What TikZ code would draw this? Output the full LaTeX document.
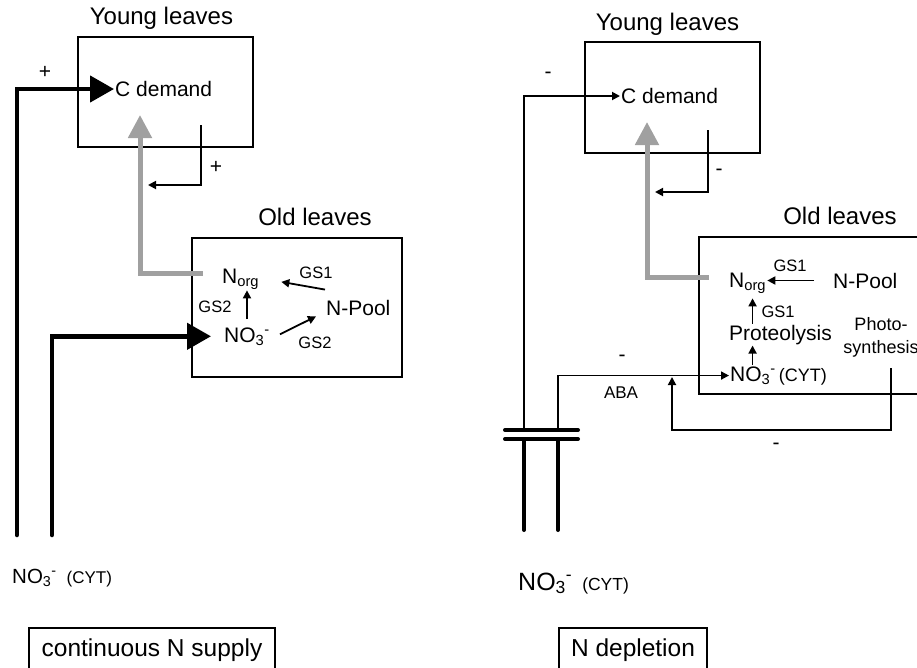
\documentclass[tikz,border=0pt]{standalone}
\usepackage{fontspec}
\setmainfont{Liberation Sans}
\usetikzlibrary{arrows.meta, positioning}
\definecolor{flowgray}{RGB}{160,160,160}
\tikzset{
  leafbox/.style={rectangle, draw, line width=2pt, inner sep=0pt},
  casebox/.style={rectangle, draw, line width=1.5pt, inner sep=0pt,
    minimum height=44pt, font=\fontsize{24.5}{28}\selectfont},
  title/.style={font=\fontsize{24}{28}\selectfont, inner sep=1pt},
  lbl/.style={font=\fontsize{21}{24}\selectfont, inner sep=1pt},
  enz/.style={font=\fontsize{16.5}{19}\selectfont, inner sep=1pt},
  sign/.style={font=\fontsize{21}{24}\selectfont, inner sep=0pt},
  thinarrow/.style={-{Triangle[length=8pt, width=8pt]}, line width=1.8pt},
  boldarrow/.style={-{Triangle[length=24pt, width=26pt]}, line width=4.5pt, line cap=round},
  grayarrow/.style={-{Triangle[length=23pt, width=23pt]}, line width=5pt, color=flowgray},
  wire/.style={line width=4pt, line cap=round}
}
\newcommand{\nitrate}{NO\textsubscript{3}\textsuperscript{-}}

\begin{document}
\begin{tikzpicture}[x=1pt, y=-1pt]
  \useasboundingbox (0,0) rectangle (917,667);
  \clip (0,0) rectangle (917,667);
  % left panel: continuous N supply
  \node[leafbox, minimum width=175pt, minimum height=110pt] (youngA) at (165.5,92) {};
  \node[title, above=5pt of youngA, xshift=-4pt] {Young leaves};
  \node[lbl, anchor=west] (cdemA) at (114,89) {C demand};
  \node[leafbox, minimum width=210pt, minimum height=139pt] (oldA) at (297,307.5) {};
  \node[title, above=10pt of oldA, xshift=18pt] {Old leaves};
  \node[lbl, anchor=base west] (normA) at (221,283) {N\textsubscript{org}};
  \node[lbl, anchor=base west] (nPoolA) at (325,315) {N-Pool};
  \node[lbl, anchor=base west] (no3A) at (223,342) {\nitrate};
  \node[enz] at (316,273) {GS1};
  \node[enz] at (215,307) {GS2};
  \node[enz] at (315,343) {GS2};
  \node[sign] at (45,72) {+};
  \node[sign] at (216,167) {+};
  \node[anchor=base west, inner sep=0pt, font=\fontsize{20.5}{24}\selectfont] (srcA) at (12,583)
    {\nitrate\hspace{10pt}{\fontsize{17}{20}\selectfont(CYT)}};
  \node[casebox, minimum width=246pt] (caseA) at (152,650) {continuous N supply};
  % left connectors
  \coordinate (rootA1) at (17,535);
  \coordinate (rootA2) at (52,535);
  \coordinate (grayA) at (140,115);
  \coordinate (fbA) at (201,125);
  \coordinate (fbAend) at (148,185);
  \draw[boldarrow] (rootA1) |- (cdemA.west);
  \draw[boldarrow, shorten >=12pt] (rootA2) |- (no3A.west);
  \draw[grayarrow] ([xshift=-18pt, yshift=5pt]normA.west) -| (grayA);
  \draw[thinarrow] (fbA) |- (fbAend);
  \draw[thinarrow] ([yshift=9pt]nPoolA.north west) -- ([xshift=21pt, yshift=-3pt]normA.east);
  \draw[thinarrow] ([yshift=7pt]no3A.north) -- (no3A.north |- normA.south);
  \draw[thinarrow] ([xshift=9pt, yshift=2pt]no3A.east) -- ([xshift=-9pt]nPoolA.south west);

  % right panel: N depletion
  \node[leafbox, minimum width=175pt, minimum height=111pt] (youngB) at (672.5,97.5) {};
  \node[title, above=4pt of youngB, xshift=-5pt] {Young leaves};
  \node[lbl, anchor=west] (cdemB) at (620,96) {C demand};
  \node[leafbox, minimum width=282pt, minimum height=157pt] (oldB) at (840,315.5) {};
  \node[title, above=10pt of oldB] {Old leaves};
  \node[lbl, anchor=base west] (normB) at (728,287) {N\textsubscript{org}};
  \node[lbl, anchor=base west] (nPoolB) at (832,288) {N-Pool};
  \node[lbl, anchor=base west] (protB) at (728,340) {Proteolysis};
  \node[lbl, anchor=base west] (no3B) at (729,381)
    {\nitrate\hspace{3pt}{\fontsize{18}{20}\selectfont(CYT)}};
  \node[font=\fontsize{18}{23}\selectfont, align=center, inner sep=1pt] (photB) at (881,337) {Photo-\\synthesis};
  \node[enz] at (790,266) {GS1};
  \node[enz] at (778,312) {GS1};
  \node[font=\fontsize{17}{20}\selectfont, inner sep=1pt] at (621,393) {ABA};
  \node[sign] at (548,75) {-};
  \node[sign] at (719,172) {-};
  \node[sign] at (622,358) {-};
  \node[sign] at (776,446) {-};
  \node[anchor=base west, inner sep=0pt, font=\fontsize{25}{28}\selectfont] (srcB) at (518,590)
    {\nitrate\hspace{10pt}{\fontsize{17.5}{20}\selectfont(CYT)}};
  \node[casebox, minimum width=148pt] (caseB) at (633,650) {N depletion};
  % right connectors
  \coordinate (capB1) at (524,430);
  \coordinate (capB2) at (558,430);
  \coordinate (grayB) at (647,122);
  \coordinate (fbB) at (708,130);
  \coordinate (fbBend) at (655,192);
  \coordinate (inhB) at (672,377);
  \draw[thinarrow] (capB1) |- (cdemB.west);
  \draw[thinarrow] (capB2) |- (no3B.west);
  \draw[grayarrow] ([xshift=-19pt, yshift=5pt]normB.west) -| (grayB);
  \draw[thinarrow] (fbB) |- (fbBend);
  \draw[thinarrow] ([xshift=-18pt]nPoolB.west) -- (normB.east |- nPoolB.west);
  \draw[thinarrow, shorten >=4pt] ([xshift=-28pt]protB.north) -- ([xshift=-28pt]protB.north |- normB.south);
  \draw[thinarrow] ([xshift=-28pt]protB.south |- no3B.north) -- ([xshift=-28pt]protB.south);
  \draw[thinarrow] ([xshift=10pt, yshift=-10pt]photB.south) -- ++(0,62) -| (inhB);
  % interrupted supply
  \draw[wire] (505,430) -- (578,430);
  \draw[wire] (505,439) -- (578,439);
  \draw[wire] (524,439) -- (524,530);
  \draw[wire] (558,439) -- (558,530);
\end{tikzpicture}
\end{document}
